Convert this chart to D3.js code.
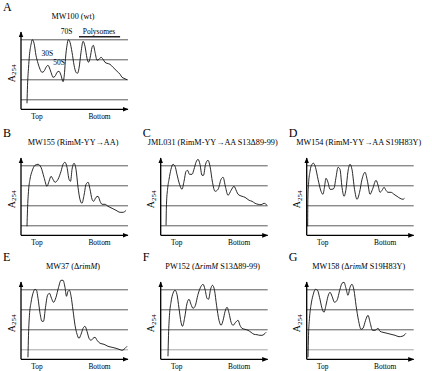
<!DOCTYPE html>
<html>
<head>
<meta charset="utf-8">
<script src="https://cdnjs.cloudflare.com/ajax/libs/d3/7.8.5/d3.min.js"></script>
<style>
body { margin: 0; background: #fff; }
svg { display: block; }
</style>
</head>
<body>
<svg id="fig" width="432" height="371" font-family="'Liberation Serif', 'DejaVu Serif', serif"></svg>
<script>
// panel letters, strain names and genotypes (_..._ = italic)
var panelLetters = ["A", "B", "C", "D", "E", "F", "G"];
var strainNames = ["MW100", "MW155", "JML031", "MW154", "MW37", "PW152", "MW158"];
var genotypes = ["wt", "RimM-YY\u2192AA", "RimM-YY\u2192AA S13\u039489-99", "RimM-YY\u2192AA S19H83Y",
  "\u0394_rimM_", "\u0394_rimM_ S13\u039489-99", "\u0394_rimM_ S19H83Y"];

// gradient position (% top -> bottom) vs A254 (arb. units)
var mw100 = [[5.6,0.30],[6.1,1.20],[7.0,2.05],[7.9,2.70],[9.4,3.25],[10.6,3.48],[12.2,3.30],[14.0,2.70],
  [15.9,2.30],[17.8,2.00],[19.6,1.85],[21.5,1.90],[23.4,2.10],[25.2,2.20],[27.1,2.00],[29.0,1.70],[29.9,1.60],
  [31.8,1.65],[33.7,1.85],[35.5,1.90],[37.4,1.70],[39.3,1.38],[40.7,1.85],[41.6,2.55],[43.0,3.20],[44.2,3.48],
  [45.8,3.35],[47.7,2.85],[49.6,2.20],[51.4,1.85],[52.8,1.80],[54.2,2.05],[56.1,2.85],[58.0,3.40],[59.8,3.15],
  [61.7,2.55],[63.1,2.35],[64.5,2.55],[66.4,3.10],[67.6,3.20],[69.2,2.85],[71.1,2.45],[72.9,2.50],[74.8,2.60],
  [76.7,2.50],[78.5,2.35],[80.4,2.30],[83.2,2.25],[86.0,2.10],[89.8,1.90],[92.6,1.75],[94.4,1.60],[96.3,1.55],
  [98.2,1.50],[99.1,1.48]];
var mw155 = [[5.6,0.45],[6.1,1.30],[7.0,2.20],[8.4,2.80],[10.3,3.20],[13.1,3.50],[15.9,3.55],[18.7,3.40],
  [21.5,2.90],[24.3,2.45],[26.2,2.70],[28.1,2.95],[29.9,2.80],[31.8,2.65],[34.6,2.80],[37.4,3.20],[39.3,3.55],
  [41.1,3.65],[43.0,3.40],[44.9,2.80],[46.3,2.70],[47.7,3.30],[49.6,3.60],[51.4,3.30],[53.3,2.40],[55.1,1.80],
  [57.0,1.60],[58.9,2.00],[60.8,2.55],[62.7,2.65],[64.5,2.30],[66.4,1.80],[67.8,1.70],[70.1,1.90],[72.0,1.95],
  [73.9,1.70],[75.7,1.55],[78.5,1.55],[81.3,1.45],[85.1,1.35],[88.8,1.25],[92.6,1.15],[95.4,1.15],[98.2,1.25]];
var jml031 = [[5.0,0.50],[5.4,1.55],[6.4,2.30],[7.8,2.80],[9.6,3.30],[11.5,3.55],[13.4,3.45],[15.2,3.05],
  [17.6,2.55],[19.9,2.30],[21.8,2.70],[23.7,3.20],[25.1,3.25],[26.9,3.05],[29.3,3.05],[31.1,3.30],[33.0,3.65],
  [34.9,3.80],[36.7,3.55],[38.6,3.00],[40.0,3.00],[41.9,3.55],[44.2,3.75],[46.1,3.45],[48.4,2.65],[50.8,2.20],
  [53.6,2.30],[56.4,2.80],[58.3,2.90],[60.6,2.40],[62.9,2.00],[65.8,2.25],[68.5,2.45],[70.9,2.20],[72.3,2.05],
  [76.0,1.95],[78.8,1.90],[82.6,1.75],[85.4,1.70],[88.2,1.60],[91.0,1.55],[93.8,1.53],[96.6,1.60],[99.4,1.50]];
var mw154 = [[0.9,0.45],[1.1,1.80],[1.7,2.55],[3.1,3.20],[4.9,3.55],[6.4,3.60],[8.2,3.40],[10.6,2.80],
  [13.4,2.20],[15.2,2.05],[16.6,2.40],[18.0,2.85],[19.9,2.65],[21.8,2.30],[23.7,2.30],[25.5,2.35],[27.4,2.90],
  [29.3,3.40],[31.1,3.30],[33.0,2.40],[34.9,1.95],[36.7,2.30],[38.6,3.20],[40.5,3.55],[42.3,3.30],[44.7,2.30],
  [47.0,1.80],[49.4,2.15],[51.7,2.80],[54.5,3.15],[56.8,2.70],[59.2,2.05],[61.5,2.30],[64.8,2.75],[66.7,2.50],
  [68.5,2.15],[70.4,2.25],[72.3,2.40],[74.1,2.25],[76.0,2.15],[78.8,2.15],[81.6,2.05],[84.4,1.95],[87.2,1.85],
  [90.0,1.80],[91.4,1.85]];
var mw37 = [[6.5,0.10],[7.0,1.20],[7.9,2.20],[9.4,2.85],[11.2,3.30],[13.1,3.50],[14.5,3.45],[15.9,3.05],
  [17.8,2.30],[19.6,1.90],[21.0,1.90],[22.9,2.60],[24.8,3.20],[26.6,3.30],[28.5,3.05],[30.4,2.85],[32.7,3.10],
  [35.1,3.60],[37.4,3.95],[39.3,3.95],[41.1,3.60],[42.5,3.15],[43.9,3.40],[45.3,3.45],[46.8,3.15],[48.6,2.45],
  [50.5,1.70],[52.4,1.25],[54.2,1.05],[56.1,1.25],[58.0,1.55],[59.8,1.65],[61.7,1.40],[63.6,1.05],[65.5,0.95],
  [67.3,1.05],[69.2,1.10],[71.1,0.95],[73.9,0.80],[77.6,0.75],[81.3,0.65],[85.1,0.60],[88.8,0.55],[92.6,0.48],
  [94.4,0.45],[96.3,0.50],[98.2,0.60],[99.1,0.65]];
var pw152 = [[6.8,0.15],[7.3,1.20],[8.2,2.20],[9.6,2.85],[11.5,3.30],[13.4,3.45],[15.2,3.25],[17.1,2.55],
  [19.0,1.85],[20.4,1.65],[22.3,2.05],[24.6,2.80],[26.5,3.00],[28.3,2.75],[30.2,2.55],[32.1,2.65],[34.9,3.25],
  [37.7,3.65],[39.6,3.75],[41.4,3.50],[43.3,3.05],[44.7,3.00],[46.6,3.50],[48.4,3.70],[50.3,3.45],[52.2,2.70],
  [54.5,1.95],[56.4,1.70],[58.3,1.95],[60.2,2.40],[62.0,2.60],[63.9,2.30],[65.8,1.85],[67.6,1.70],[70.0,1.85],
  [72.3,1.95],[74.1,1.70],[76.0,1.55],[78.8,1.50],[81.6,1.45],[84.4,1.35],[87.2,1.25],[90.0,1.23],[92.8,1.20],
  [94.7,1.20],[96.6,1.25],[98.5,1.35]];
var mw158 = [[1.2,0.10],[1.7,1.20],[2.6,2.05],[4.0,2.70],[5.9,3.20],[8.2,3.50],[10.1,3.45],[12.0,3.10],
  [14.3,2.55],[16.2,2.35],[18.0,2.70],[19.9,3.15],[21.8,3.35],[23.7,3.15],[26.0,2.85],[28.3,2.95],[31.1,3.50],
  [33.0,3.80],[34.9,3.85],[36.7,3.55],[38.6,3.20],[40.5,3.60],[42.3,3.75],[44.2,3.45],[46.1,2.70],[48.4,1.95],
  [50.8,1.50],[52.6,1.55],[55.0,1.95],[57.3,2.20],[59.2,1.85],[61.5,1.45],[63.9,1.45],[66.7,1.55],[68.5,1.40],
  [71.3,1.35],[75.1,1.30],[78.8,1.25],[82.6,1.20],[86.3,1.13],[89.1,1.15],[91.0,1.20],[92.8,1.30]];
var profiles = [mw100, mw155, jml031, mw154, mw37, pw152, mw158];

var gridValues = [0.5, 1.5, 2.5, 3.5];
var axisTop = 3.87;

// peak annotations for panel A
var peakNames = ["30S", "50S", "70S", "Polysomes"];
var peakPos = [[24.5, 2.67], [35.7, 2.2], [42.7, 3.77], [72.9, 3.75]];
var polysomeRange = [54.2, 92.6];
var polysomeBarY = 3.63;

// layout: y-axis x and top grid line y of each panel
var origins = [[21, 39.3], [21, 165.3], [160.7, 165.3], [306.7, 165.3], [21, 289.3], [160.7, 289.3], [306.7, 289.3]];
var plotW = 107, plotH = 70;

var svg = d3.select("#fig");

svg.append("defs").append("marker")
  .attr("id", "arrow")
  .attr("viewBox", "0 0 6 6")
  .attr("refX", 5.5).attr("refY", 3)
  .attr("markerWidth", 6).attr("markerHeight", 6)
  .attr("markerUnits", "userSpaceOnUse")
  .attr("orient", "auto")
  .append("path").attr("d", "M0,0.6L6,3L0,5.4Z").attr("fill", "#000");

function drawPanel(i) {
  var ox = origins[i][0], oy = origins[i][1];
  var x = d3.scaleLinear().domain([0, 100]).range([ox, ox + plotW]);
  var y = d3.scaleLinear().domain([0, 3.5]).range([oy + plotH, oy]);
  var g = svg.append("g");

  // grid lines
  var grid = g.append("g")
    .attr("transform", "translate(" + ox + ",0)")
    .call(d3.axisLeft(y).tickValues(gridValues).tickSize(-plotW).tickFormat(""));
  grid.select(".domain").remove();
  grid.selectAll(".tick line").attr("stroke", "#4a4a4a").attr("stroke-width", 0.9);
  if (i >= 4) grid.selectAll(".tick line").filter(function(d) { return d == 0.5; }).attr("stroke", "#9a9a9a");

  // axes with arrows
  g.append("line")
    .attr("x1", x(0)).attr("y1", y(0)).attr("x2", x(0)).attr("y2", y(axisTop))
    .attr("stroke", "#000").attr("stroke-width", 1.3).attr("marker-end", "url(#arrow)");
  g.append("line")
    .attr("x1", x(0)).attr("y1", y(0)).attr("x2", x(100)).attr("y2", y(0))
    .attr("stroke", "#000").attr("stroke-width", 1.3).attr("marker-end", "url(#arrow)");

  // profile
  var line = d3.line()
    .x(function(d) { return x(d[0]); })
    .y(function(d) { return y(d[1]); })
    .curve(d3.curveMonotoneX);
  g.append("path").datum(profiles[i])
    .attr("d", line).attr("fill", "none").attr("stroke", "#111").attr("stroke-width", 0.9);

  // labels
  g.append("text").attr("x", ox - 18).attr("y", oy - 28.5)
    .attr("font-size", 12).text(panelLetters[i]);

  var title = g.append("text").attr("x", ox + 52).attr("y", oy - 20)
    .attr("text-anchor", "middle").attr("font-size", 8.2);
  title.append("tspan").text(strainNames[i] + " (");
  genotypes[i].split("_").forEach(function(part, k) {
    title.append("tspan").attr("font-style", k % 2 ? "italic" : "normal").text(part);
  });
  title.append("tspan").text(")");

  var yl = g.append("text")
    .attr("transform", "translate(" + (ox - 6.5) + "," + (oy + 34) + ") rotate(-90)")
    .attr("text-anchor", "middle").attr("font-size", 10);
  yl.append("tspan").text("A");
  yl.append("tspan").attr("font-size", 7).attr("dy", 1.5).text("254");

  g.append("text").attr("x", ox + 16).attr("y", oy + 79.5)
    .attr("text-anchor", "middle").attr("font-size", 7.4).text("Top");
  g.append("text").attr("x", ox + 78.5).attr("y", oy + 79.5)
    .attr("text-anchor", "middle").attr("font-size", 7.4).text("Bottom");

  if (i == 0) {
    peakNames.forEach(function(n, k) {
      g.append("text").attr("x", x(peakPos[k][0])).attr("y", y(peakPos[k][1]))
        .attr("text-anchor", "middle").attr("font-size", 7.5).text(n);
    });
    g.append("line")
      .attr("x1", x(polysomeRange[0])).attr("x2", x(polysomeRange[1]))
      .attr("y1", y(polysomeBarY)).attr("y2", y(polysomeBarY))
      .attr("stroke", "#222").attr("stroke-width", 1.5);
  }
}

for (var i = 0; i < profiles.length; i++) drawPanel(i);
</script>
</body>
</html>
